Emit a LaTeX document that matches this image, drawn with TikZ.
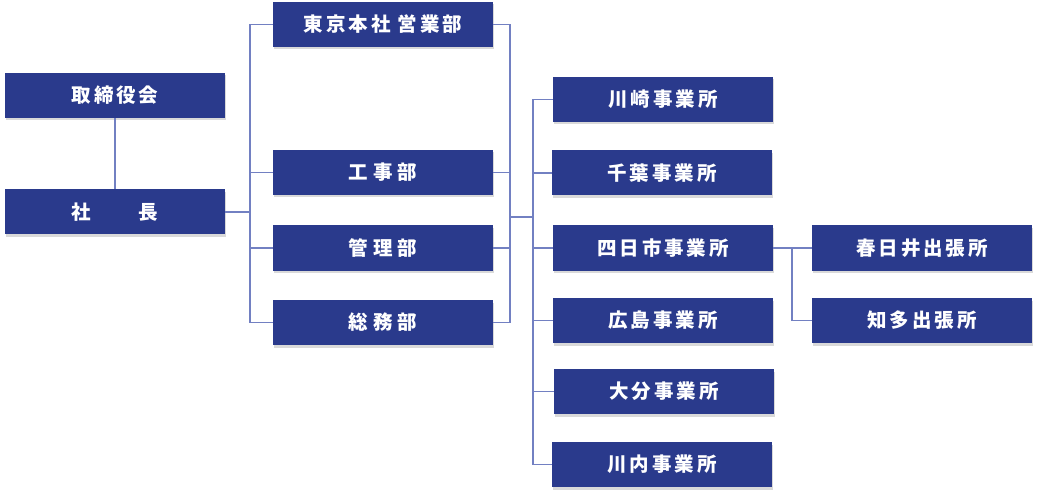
\documentclass[tikz,border=0pt]{standalone}
\usepackage{fontspec}
\newfontfamily\cjk{Noto Sans CJK JP}[LetterSpace=15]
\usepackage{tikz}
\usetikzlibrary{calc,shadows}
\definecolor{boxblue}{RGB}{42,58,140}
\definecolor{linkblue}{RGB}{114,128,194}
\tikzstyle{unit} = [fill=boxblue, text=white, minimum width=220pt, minimum height=45pt,
	inner sep=0pt, font=\cjk\bfseries\fontsize{19.5}{19.5}\selectfont,
	drop shadow={opacity=0.3, shadow xshift=1pt, shadow yshift=-2.5pt}]
\tikzstyle{link} = [draw=linkblue, line width=1.6pt]

\begin{document}
\begin{tikzpicture}[x=1pt,y=-1pt]
   \useasboundingbox (0,0) rectangle (1039,497);
   % top management
   \node[unit] (board) at (115,95.5) {取締役会};
   \node[unit] (pres) at (115,212) {社　　長};
   % departments
   \node[unit] (eigyo) at (383,24.5) {東京本社 営業部};
   \node[unit] (koji) at (383,172.5) {工\hspace{5pt}事\hspace{5pt}部};
   \node[unit] (kanri) at (383,248) {管\hspace{5pt}理\hspace{5pt}部};
   \node[unit] (somu) at (383,322.5) {総\hspace{5pt}務\hspace{5pt}部};
   % offices
   \node[unit] (kawasaki) at (663,99.5) {川崎事業所};
   \node[unit] (chiba) at (662,173) {千葉事業所};
   \node[unit] (yokkaichi) at (663,248) {四日市事業所};
   \node[unit] (hiroshima) at (663,320.5) {広島事業所};
   \node[unit] (oita) at (664,391.5) {大分事業所};
   \node[unit] (sendai) at (662,464.5) {川内事業所};
   % branch offices
   \node[unit] (kasugai) at (922,248) {春日井出張所};
   \node[unit] (chita) at (922,320.5) {知多出張所};

   \coordinate (hqL) at (250,0);
   \coordinate (hqR) at (510,0);
   \coordinate (brL) at (533,0);
   \coordinate (subL) at (792,0);
   \coordinate (mid) at (510,217);

   \draw[link] (board.south) -- (pres.north);
   \draw[link] (pres.east) -- (pres.east -| hqL);
   \draw[link] (eigyo.west) -| (hqL |- somu.west) -- (somu.west);
   \foreach \n in {koji,kanri}
      \draw[link] (\n.west) -- (\n.west -| hqL);
   \draw[link] (eigyo.east) -| (hqR |- somu.east) -- (somu.east);
   \foreach \n in {koji,kanri}
      \draw[link] (\n.east) -- (\n.east -| hqR);
   \draw[link] (mid) -- (mid -| brL);
   \draw[link] (kawasaki.west) -| (brL |- sendai.west) -- (sendai.west);
   \foreach \n in {chiba,yokkaichi,hiroshima,oita}
      \draw[link] (\n.west) -- (\n.west -| brL);
   \draw[link] (yokkaichi.east) -- (kasugai.west);
   \draw[link] (kasugai.west -| subL) |- (chita.west);
\end{tikzpicture}
\end{document}
